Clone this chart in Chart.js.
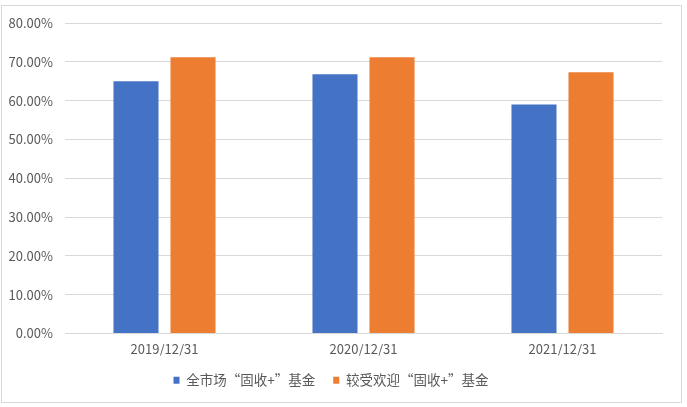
<!DOCTYPE html>
<html>
<head>
<meta charset="utf-8">
<script src="https://cdn.jsdelivr.net/npm/chart.js@4/dist/chart.umd.min.js"></script>
<style>
    html, body { margin: 0; padding: 0; background: #fff; }
    #wrap { position: relative; width: 687px; height: 407px; }
    #frame { position: absolute; left: 1px; top: 5px; width: 679px; height: 396px; border: 1px solid #d9d9d9; }
    #chart { position: absolute; left: 0; top: 0; }
</style>
</head>
<body>
<div id="wrap">
    <div id="frame"></div>
    <canvas id="chart" width="687" height="407"></canvas>
</div>
<script>
const categories = ['2019/12/31', '2020/12/31', '2021/12/31']
const seriesNames = ['全市场“固收+”基金', '较受欢迎“固收+”基金']
const marketValues = [65.0, 66.8, 59.0]
const popularValues = [71.2, 71.2, 67.3]
const yTicks = [0, 10, 20, 30, 40, 50, 60, 70, 80]

const font = { family: "'Liberation Sans Narrow', 'Noto Sans CJK SC', sans-serif", size: 13 }

const ctx = document.getElementById('chart').getContext('2d')
new Chart(ctx, {
    type: 'bar',
    data: {
        labels: categories,
        datasets: [
            { label: seriesNames[0], data: marketValues, backgroundColor: '#4472c4' },
            { label: seriesNames[1], data: popularValues, backgroundColor: '#ed7d31' }
        ]
    },
    options: {
        responsive: false,
        animation: false,
        layout: { padding: { left: 0, right: 25, top: 23, bottom: 10 } },
        datasets: { bar: { categoryPercentage: 0.573, barPercentage: 0.79 } },
        plugins: {
            tooltip: { enabled: false },
            legend: {
                position: 'bottom',
                labels: {
                    color: '#595959',
                    font: { ...font, family: "'Noto Sans CJK SC', sans-serif", size: 13.5 },
                    boxWidth: 6,
                    boxHeight: 7,
                    padding: 18
                }
            }
        },
        scales: {
            x: {
                grid: { display: false },
                border: { color: '#d9d9d9' },
                ticks: { color: '#595959', font, padding: 0 },
                afterFit: scale => { scale.height = 22 }
            },
            y: {
                min: 0,
                max: 80,
                afterBuildTicks: scale => { scale.ticks = yTicks.map(v => ({ value: v })) },
                grid: { color: '#d9d9d9', drawTicks: false },
                border: { display: false },
                ticks: {
                    color: '#595959',
                    font,
                    padding: 12,
                    callback: v => v.toFixed(2) + '%'
                },
                afterFit: scale => { scale.width = 65 }
            }
        }
    }
})
</script>
</body>
</html>
